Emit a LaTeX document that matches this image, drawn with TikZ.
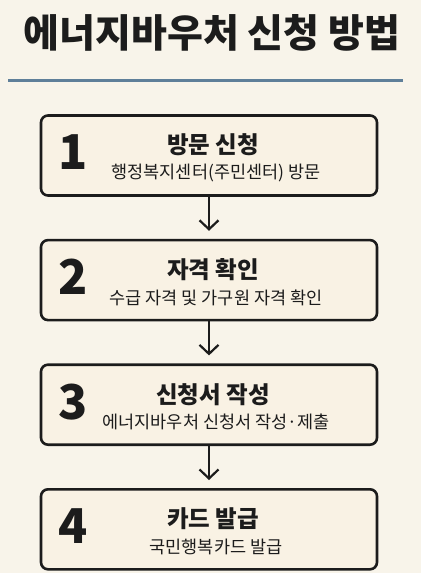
\documentclass[tikz,border=0pt]{standalone}
\usepackage{fontspec}
\setmainfont{Noto Sans CJK KR}
\usetikzlibrary{arrows.meta,positioning}

\definecolor{paper}{HTML}{F8F4EA}
\definecolor{cardfill}{HTML}{F9F2E4}
\definecolor{rulecol}{HTML}{5F7F99}
\definecolor{ink}{HTML}{1C1C1C}

\begin{document}
\begin{tikzpicture}[->,>={Straight Barb[length=9pt,width=19pt]}
  ,shorten >=8pt
  ,node distance=42pt
  ,line width=2.2pt]
  \tikzset{stepcard/.style={draw=ink,line width=2.6pt,rounded corners=7pt,
      fill=cardfill,minimum width=336pt,minimum height=80pt},
    stepnum/.style={font=\fontsize{48}{48}\selectfont\bfseries,text=ink},
    steptitle/.style={font=\fontsize{23.5}{24}\selectfont\bfseries,text=ink},
    stepsub/.style={font=\fontsize{17.5}{18}\selectfont,text=ink}}

  \fill[paper] (0,0) rectangle (421pt,-573pt);
  \useasboundingbox (0,0) rectangle (421pt,-573pt);

  % heading and rule
  \node[font=\fontsize{39}{39}\selectfont\bfseries,text=ink] (head) at (212pt,-33pt)
    {에너지바우처 신청 방법};
  \draw[-,rulecol,line width=3pt] (8pt,-80.5pt) -- (411pt,-80.5pt);

  % 4 cards
  \node[stepcard] (s1) at (209pt,-155.5pt) {};
  \node[stepcard,below=of s1] (s2) {};
  \node[stepcard,below=of s2] (s3) {};
  \node[stepcard,below=of s3] (s4) {};

  \node[stepnum] (n1) at ([xshift=33pt,yshift=3pt]s1.west) {1};
  \node[stepnum] (n2) at ([xshift=33pt,yshift=3pt]s2.west) {2};
  \node[stepnum] (n3) at ([xshift=33pt,yshift=3pt]s3.west) {3};
  \node[stepnum] (n4) at ([xshift=33pt,yshift=3pt]s4.west) {4};

  \node[steptitle] (t1) at ([xshift=4pt,yshift=10.5pt]s1.center) {방문 신청};
  \node[steptitle] (t2) at ([xshift=4pt,yshift=10.5pt]s2.center) {자격 확인};
  \node[steptitle] (t3) at ([xshift=4pt,yshift=10.5pt]s3.center) {신청서 작성};
  \node[steptitle] (t4) at ([xshift=4pt,yshift=10.5pt]s4.center) {카드 발급};

  \node[stepsub] (d1) at ([xshift=7pt,yshift=-17.5pt]s1.center) {행정복지센터(주민센터) 방문};
  \node[stepsub] (d2) at ([xshift=7pt,yshift=-17.5pt]s2.center) {수급 자격 및 가구원 자격 확인};
  \node[stepsub] (d3) at ([xshift=7pt,yshift=-17.5pt]s3.center) {에너지바우처 신청서 작성·제출};
  \node[stepsub] (d4) at ([xshift=7pt,yshift=-17.5pt]s4.center) {국민행복카드 발급};

  \path[draw=ink]
  (s1) edge (s2)
  (s2) edge (s3)
  (s3) edge (s4);
\end{tikzpicture}
\end{document}
